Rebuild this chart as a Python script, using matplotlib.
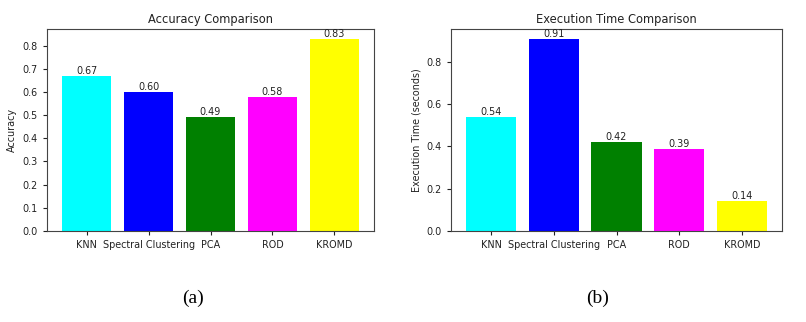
import matplotlib
matplotlib.use("Agg")
import matplotlib.pyplot as plt

methods = ["KNN", "Spectral Clustering", "PCA", "ROD", "KROMD"]
colors = ["cyan", "blue", "green", "magenta", "yellow"]
accuracy = [0.67, 0.60, 0.49, 0.58, 0.83]
exec_time = [0.54, 0.91, 0.42, 0.39, 0.14]

fig = plt.figure(figsize=(8.06, 3.22), dpi=100)
W, H = 806, 322

def add_ax(x0, x1, y0, y1):
    return fig.add_axes([x0 / W, 1 - y1 / H, (x1 - x0) / W, (y1 - y0) / H])

ax1 = add_ax(47, 374, 29, 231)
ax2 = add_ax(451, 782, 29, 231)

fs = 6.9
for ax, vals, title, ylabel in [
    (ax1, accuracy, "Accuracy Comparison", "Accuracy"),
    (ax2, exec_time, "Execution Time Comparison", "Execution Time (seconds)"),
]:
    bars = ax.bar(methods, vals, color=colors)
    for b, v in zip(bars, vals):
        ax.text(b.get_x() + b.get_width() / 2, b.get_height(), f"{v:.2f}",
                ha="center", va="bottom", fontsize=fs, color="#222222")
    ax.set_title(title, fontsize=8.3, pad=4, color="#222222")
    ax.set_ylabel(ylabel, fontsize=fs, color="#222222")
    ax.tick_params(labelsize=fs, colors="#222222", length=3)
    for s in ax.spines.values():
        s.set_color("#444444")

ax2.set_yticks([0.0, 0.2, 0.4, 0.6, 0.8])

fig.text(193 / W, 1 - 298 / H, "(a)", ha="center", va="center",
         fontsize=14, family="Liberation Serif")
fig.text(598 / W, 1 - 298 / H, "(b)", ha="center", va="center",
         fontsize=14, family="Liberation Serif")

fig.savefig("out.png", dpi=100, facecolor="white")
